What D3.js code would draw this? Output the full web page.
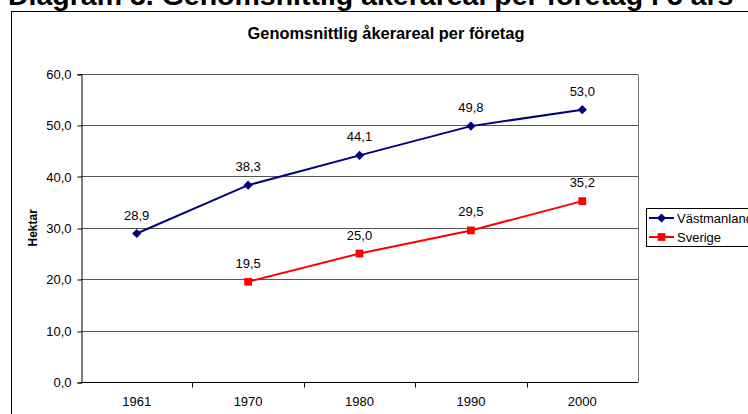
<!DOCTYPE html>
<html>
<head>
<meta charset="utf-8">
<script src="https://cdn.jsdelivr.net/npm/d3@7"></script>
<style>
  body { margin: 0; background: #fff; }
  svg { display: block; font-family: Arial, "Liberation Sans", sans-serif; }
</style>
</head>
<body>
<svg id="chart" width="748" height="414"></svg>
<script>
const years = ["1961", "1970", "1980", "1990", "2000"];
const vastmanland = [28.9, 38.3, 44.1, 49.8, 53.0];
const sverige = [null, 19.5, 25.0, 29.5, 35.2];
const yTicks = [0, 10, 20, 30, 40, 50, 60];

const margin = { top: 73.7, right: 110, bottom: 32, left: 81 };
const plotRight = 638;

const svg = d3.select("#chart");
const fmt = v => d3.format(".1f")(v).replace(".", ",");

// Page heading (clipped at top, as in the document)
svg.append("text")
  .attr("x", 8)
  .attr("y", 5)
  .attr("font-size", "28.5px")
  .attr("font-weight", "bold")
  .text("Diagram 3. Genomsnittlig åkerareal per företag i 5 års");

// Chart frame
svg.append("rect")
  .attr("x", 11.5)
  .attr("y", 11.5)
  .attr("width", 800)
  .attr("height", 500)
  .attr("fill", "#fff")
  .attr("stroke", "#000")
  .attr("stroke-width", 1);

const x = d3.scaleBand()
  .domain(years)
  .range([margin.left, plotRight]);

const y = d3.scaleLinear()
  .domain([0, 60])
  .range([382, margin.top]);

// Gridlines
svg.append("g")
  .selectAll("line")
  .data(yTicks.slice(1))
  .join("line")
  .attr("x1", margin.left)
  .attr("x2", plotRight)
  .attr("y1", d => Math.round(y(d)) + 0.5)
  .attr("y2", d => Math.round(y(d)) + 0.5)
  .attr("stroke", "#555")
  .attr("stroke-width", 1);

// Plot area right border
svg.append("line")
  .attr("x1", plotRight + 0.5).attr("x2", plotRight + 0.5)
  .attr("y1", Math.round(y(60)) + 0.5).attr("y2", 382.5)
  .attr("stroke", "#777");

// Axes
const yAxis = svg.append("g")
  .attr("transform", `translate(${margin.left + 0.5},0.5)`)
  .call(d3.axisLeft(y).tickValues(yTicks).tickFormat(fmt).tickSize(4).tickPadding(6));
yAxis.selectAll("text").attr("font-size", "13px").attr("fill", "#000")
  .attr("font-family", "Arial, 'Liberation Sans', sans-serif");
yAxis.selectAll("path, line").attr("stroke", "#000");
yAxis.selectAll(".tick line").attr("transform", d => `translate(0,${Math.round(y(d)) - y(d)})`);

const xAxis = svg.append("g")
  .attr("transform", `translate(0,382.5)`);
xAxis.append("line")
  .attr("x1", margin.left).attr("x2", plotRight)
  .attr("stroke", "#000");
xAxis.selectAll(".tk")
  .data(years.slice(1))
  .join("line")
  .attr("class", "tk")
  .attr("x1", d => Math.round(x(d)) + 0.5)
  .attr("x2", d => Math.round(x(d)) + 0.5)
  .attr("y1", 0).attr("y2", 5)
  .attr("stroke", "#000");
xAxis.selectAll("text")
  .data(years)
  .join("text")
  .attr("x", d => x(d) + x.bandwidth() / 2)
  .attr("y", 23.5)
  .attr("text-anchor", "middle")
  .attr("font-size", "13px")
  .text(d => d);

// Titles
svg.append("text")
  .attr("x", 386)
  .attr("y", 39)
  .attr("text-anchor", "middle")
  .attr("font-size", "16.4px")
  .attr("font-weight", "bold")
  .text("Genomsnittlig åkerareal per företag");

svg.append("text")
  .attr("transform", `translate(37,${(y(0) + y(60)) / 2}) rotate(-90)`)
  .attr("text-anchor", "middle")
  .attr("font-size", "12px")
  .attr("font-weight", "bold")
  .text("Hektar");

// Series (diamond = square turned 45 degrees)
const series = [
  { name: "Västmanland", values: vastmanland, color: "#000080", size: 42, rot: 45 },
  { name: "Sverige", values: sverige, color: "#ff0000", size: 60, rot: 0 }
];

const cx = d => x(d) + x.bandwidth() / 2;
const marker = s => d3.symbol().type(d3.symbolSquare).size(s.size)();

series.forEach(s => {
  const pts = years.map((yr, i) => ({ yr, v: s.values[i] })).filter(p => p.v != null);
  const line = d3.line().x(p => cx(p.yr)).y(p => y(p.v));
  svg.append("path")
    .datum(pts)
    .attr("fill", "none")
    .attr("stroke", s.color)
    .attr("stroke-width", 2)
    .attr("d", line);
  svg.append("g")
    .selectAll("path")
    .data(pts)
    .join("path")
    .attr("transform", p => `translate(${cx(p.yr)},${y(p.v)}) rotate(${s.rot})`)
    .attr("d", marker(s))
    .attr("fill", s.color);
  svg.append("g")
    .selectAll("text")
    .data(pts)
    .join("text")
    .attr("x", p => cx(p.yr))
    .attr("y", p => y(p.v) - 14)
    .attr("text-anchor", "middle")
    .attr("font-size", "13px")
    .text(p => fmt(p.v));
});

// Legend
const legend = svg.append("g").attr("transform", "translate(646,208)");
legend.append("rect")
  .attr("x", 0.5).attr("y", 0.5)
  .attr("width", 130).attr("height", 38)
  .attr("fill", "#fff")
  .attr("stroke", "#000");
series.forEach((s, i) => {
  const ly = 10 + i * 19;
  legend.append("line")
    .attr("x1", 3).attr("x2", 28)
    .attr("y1", ly).attr("y2", ly)
    .attr("stroke", s.color).attr("stroke-width", 2);
  legend.append("path")
    .attr("transform", `translate(15.5,${ly}) rotate(${s.rot})`)
    .attr("d", marker(s))
    .attr("fill", s.color);
  legend.append("text")
    .attr("x", 31)
    .attr("y", ly + 5)
    .attr("font-size", "13px")
    .text(s.name);
});
</script>
</body>
</html>
